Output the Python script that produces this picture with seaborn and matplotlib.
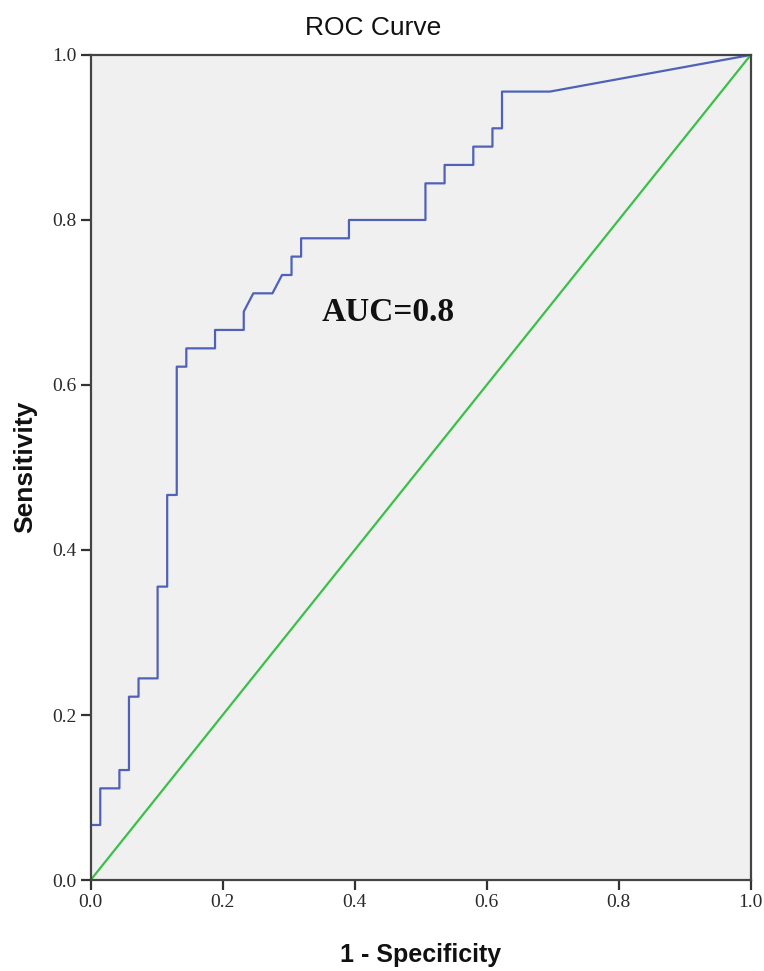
import numpy as np
import pandas as pd
import matplotlib
matplotlib.use("Agg")
import matplotlib.pyplot as plt
import seaborn as sns

# ROC curve vertices (1 - specificity, sensitivity)
fpr = [0.0, 0.0, 0.0145, 0.0145, 0.0435, 0.0435, 0.058, 0.058, 0.0725, 0.0725,
       0.1014, 0.1014, 0.1159, 0.1159, 0.1304, 0.1304, 0.1449, 0.1449, 0.1884, 0.1884,
       0.2319, 0.2319, 0.2464, 0.2754, 0.2899, 0.3043, 0.3043, 0.3188, 0.3188, 0.3913,
       0.3913, 0.5072, 0.5072, 0.5362, 0.5362, 0.5797, 0.5797, 0.6087, 0.6087, 0.6232,
       0.6232, 0.6957, 1.0]
tpr = [0.0, 0.0667, 0.0667, 0.1111, 0.1111, 0.1333, 0.1333, 0.2222, 0.2222, 0.2444,
       0.2444, 0.3556, 0.3556, 0.4667, 0.4667, 0.6222, 0.6222, 0.6444, 0.6444, 0.6667,
       0.6667, 0.6889, 0.7111, 0.7111, 0.7333, 0.7333, 0.7556, 0.7556, 0.7778, 0.7778,
       0.8, 0.8, 0.8444, 0.8444, 0.8667, 0.8667, 0.8889, 0.8889, 0.9111, 0.9111,
       0.9556, 0.9556, 1.0]
ref_x = [0.0, 1.0]
ref_y = [0.0, 1.0]
ticks = [0.0, 0.2, 0.4, 0.6, 0.8, 1.0]
auc_label = "AUC=0.8"

roc = pd.DataFrame({"fpr": fpr, "tpr": tpr})
ref = pd.DataFrame({"x": ref_x, "y": ref_y})

sns.set_style("white")
plt.rcParams["font.family"] = ["Liberation Sans", "DejaVu Sans"]

fig = plt.figure(figsize=(7.64, 9.71), dpi=100)
ax = fig.add_axes([0.1187, 0.0937, 0.8639, 0.8497])
ax.set_facecolor("#f0f0f0")

sns.lineplot(data=roc, x="fpr", y="tpr", sort=False, estimator=None,
             color="#4f62b8", linewidth=1.6, ax=ax)
sns.lineplot(data=ref, x="x", y="y", sort=False, estimator=None,
             color="#3cbf4a", linewidth=1.6, ax=ax)

ax.set_xlim(0, 1)
ax.set_ylim(0, 1)
ax.set_xticks(ticks)
ax.set_yticks(ticks)
ax.set_xticklabels([f"{t:.1f}" for t in ticks])
ax.set_yticklabels([f"{t:.1f}" for t in ticks])
for lab in ax.get_xticklabels() + ax.get_yticklabels():
    lab.set_family("Liberation Serif")
    lab.set_fontsize(14)
    lab.set_color("#2a2a2a")
ax.tick_params(direction="out", length=7, width=1.6, color="#333333", pad=3,
               bottom=True, left=True)
for s in ax.spines.values():
    s.set_color("#444444")
    s.set_linewidth(1.6)

ax.set_xlabel("")
ax.set_ylabel("")
fig.text(0.5506, 0.0165, "1 - Specificity", ha="center", va="center",
         fontsize=18, fontweight="bold", color="#111111")
fig.text(0.033, 0.519, "Sensitivity", ha="center", va="center", rotation=90,
         fontsize=19, fontweight="bold", color="#111111")
fig.text(0.4889, 0.971, "ROC Curve", ha="center", va="center",
         fontsize=19, color="#111111")

ax.text(0.45, 0.688, auc_label, transform=ax.transAxes, ha="center", va="center",
        family="Liberation Serif", fontweight="bold", fontsize=24, color="#111111")

fig.savefig("out.png", dpi=100)
